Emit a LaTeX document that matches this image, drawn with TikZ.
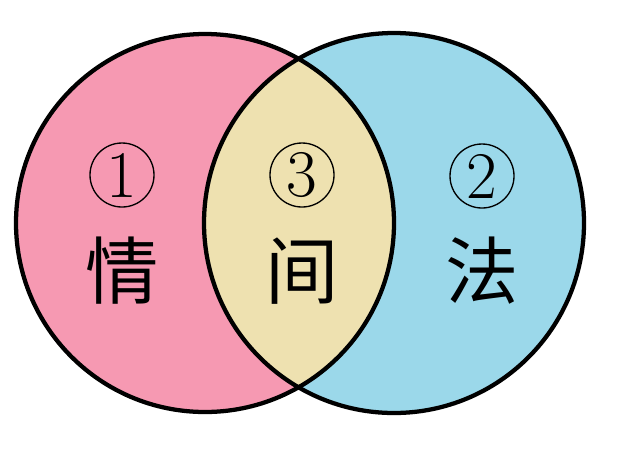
\documentclass[tikz,border=0pt]{standalone}
\usepackage{fontspec}
\newfontfamily\cjk{Noto Sans CJK SC}
\usepackage{tikz}
\usetikzlibrary{calc}
\usepackage{xcolor}
\definecolor{qingpink}{RGB}{246,153,178}
\definecolor{fablue}{RGB}{155,216,234}
\definecolor{jianbeige}{RGB}{238,225,176}

\tikzset{
  setline/.style={line width=3.2pt},
  numtag/.style={circle, draw, line width=1pt, minimum size=48pt, inner sep=0pt,
    font=\fontsize{50}{50}\selectfont},
  hanzi/.style={font=\cjk\fontsize{55}{55}\selectfont, inner sep=0pt}
}

\begin{document}
\begin{tikzpicture}[x=0.75pt, y=-0.75pt]
      \useasboundingbox (0,0) rectangle (623,451);
      \coordinate (L) at (205,223);
      \coordinate (R) at (394,223);

      \fill[qingpink] (L) circle (189);
      \fill[fablue] (R) circle (190);
      \begin{scope}
        \clip (L) circle (189);
        \fill[jianbeige] (R) circle (190);
      \end{scope}
      \draw[setline] (L) circle (189);
      \draw[setline] (R) circle (190);

      \node[numtag] (n1) at (122,175) {1};
      \node[numtag] (n3) at (302,175) {3};
      \node[numtag] (n2) at (482,176) {2};
      \node[hanzi] (qing) at (122,271) {情};
      \node[hanzi] (jian) at (302,271) {间};
      \node[hanzi] (fa) at (482,271) {法};
    \end{tikzpicture}
\end{document}
